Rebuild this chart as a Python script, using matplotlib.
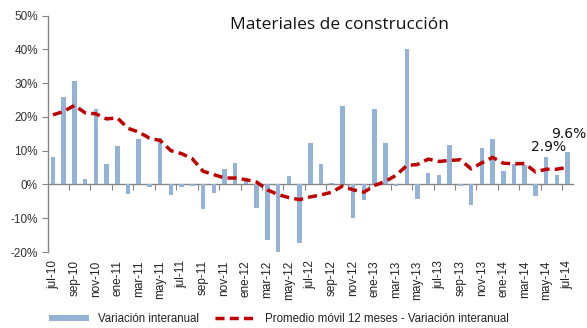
import matplotlib
matplotlib.use("Agg")
import matplotlib.pyplot as plt
from matplotlib.patches import Patch
from matplotlib.lines import Line2D

plt.rcParams['font.family'] = ['Liberation Sans', 'DejaVu Sans']

months = ["jul", "ago", "sep", "oct", "nov", "dic", "ene", "feb", "mar", "abr", "may", "jun"]
years = ["10"] * 6 + ["11"] * 12 + ["12"] * 12 + ["13"] * 12 + ["14"] * 7
categories = [f"{months[i % 12]}-{years[i]}" for i in range(len(years))]

# Variación interanual (%)
variacion = [8.2, 25.8, 30.7, 1.5, 22.2, 6.1, 11.4, -2.8, 13.5, -0.9, 13.6, -3.2,
             -0.8, -0.5, -7.2, -2.6, 4.7, 6.4, 1.0, -6.9, -16.4, -20.3, 2.5, -17.4,
             12.4, 6.1, 0.5, 23.1, -9.9, -4.5, 22.4, 12.4, -0.5, 40.1, -4.2, 3.5,
             2.9, 11.8, -0.5, -6.2, 10.8, 13.5, 4.1, 6.1, 5.8, -3.5, 8.1, 2.9, 9.6]

# Promedio móvil 12 meses (%)
promedio = [20.6, 21.6, 23.4, 21.2, 20.9, 19.4, 19.7, 16.6, 15.5, 13.7, 13.0, 10.0,
            9.1, 7.6, 3.9, 2.9, 1.9, 1.9, 1.4, 0.7, -1.6, -3.0, -3.9, -4.5,
            -3.7, -3.1, -2.3, -0.5, -1.6, -2.3, -0.3, 0.9, 2.7, 5.6, 5.9, 7.5,
            6.8, 7.1, 7.3, 4.6, 6.4, 8.0, 6.3, 6.1, 6.2, 3.7, 4.5, 4.5, 5.1]

yticks = [-20, -10, 0, 10, 20, 30, 40, 50]
title = "Materiales de construcción"

blue = "#95B3D7"
red = "#C00000"
gray = "#868686"

fig = plt.figure(figsize=(5.87, 3.28), dpi=100)
ax = fig.add_axes([0.0811, 0.2317, 0.8950, 0.7210])

x = list(range(len(categories)))
ax.bar(x, variacion, width=0.42, color=blue, zorder=2)
ax.plot(x, promedio, color=red, lw=2.5, linestyle=(0, (2.6, 1.5)), zorder=3)

ax.set_xlim(-0.5, len(categories) - 0.5)
ax.set_ylim(-20, 50)
ax.set_yticks(yticks)
ax.set_yticklabels([f"{v}%" for v in yticks], fontsize=8.5, color="#333333")
ax.tick_params(axis='y', length=4, color=gray, direction='out', pad=3)

ax.set_xticks(x[::2])
ax.set_xticklabels(categories[::2], rotation=90, fontsize=8.5, color="#222222")
ax.tick_params(axis='x', length=0, pad=6)

for side in ("top", "right", "bottom"):
    ax.spines[side].set_visible(False)
ax.spines["left"].set_color(gray)
ax.spines["left"].set_linewidth(1.0)

# zero line carrying the category tick marks
zero_frac = (0 - (-20)) / 70
sec = ax.secondary_xaxis(zero_frac)
sec.set_xticks([i + 0.5 for i in range(1, len(categories), 2)])
sec.set_xticklabels([])
sec.tick_params(axis='x', length=4, color=gray, direction='out')
sec.spines["bottom"].set_color(gray)
sec.spines["bottom"].set_linewidth(1.0)

fig.text(0.578, 0.923, title, ha="center", va="center", fontsize=12.5,
         family=["Open Sans", "DejaVu Sans"], color="#111111")

ax.text(46.2, 11.2, f"{variacion[47]}%", ha="center", va="center", fontsize=10,
        family=["DejaVu Sans"], color="#111111")
fig.text(0.9985, 1 - 134 / 328, f"{variacion[48]}%", ha="right", va="center", fontsize=10,
         family=["DejaVu Sans"], color="#111111")

handles = [Patch(facecolor=blue, edgecolor="none"),
           Line2D([0], [0], color=red, lw=2.5, linestyle=(0, (2.6, 1.5)))]
labels = ["Variación interanual", "Promedio móvil 12 meses - Variación interanual"]
fig.legend(handles, labels, loc="center", bbox_to_anchor=(0.475, 0.027), ncol=2,
           frameon=False, fontsize=8.3, handlelength=3.5, handleheight=0.5,
           handletextpad=0.8, columnspacing=1.4, labelcolor="#222222")

fig.savefig("out.png", dpi=100)
